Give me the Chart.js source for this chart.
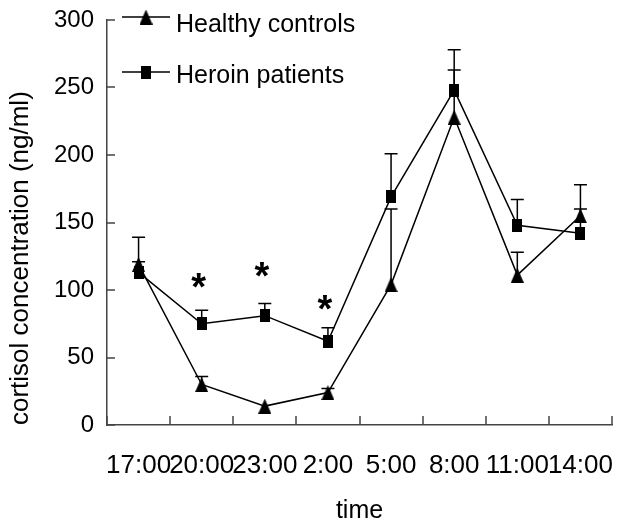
<!DOCTYPE html>
<html>
<head>
<meta charset="utf-8">
<script src="https://cdn.jsdelivr.net/npm/chart.js@4.4.1/dist/chart.umd.min.js"></script>
<style>
body { margin: 0; background: #fff; }
#wrap { width: 629px; height: 526px; position: relative; }
</style>
</head>
<body>
<div id="wrap"><canvas id="myChart"></canvas></div>
<script>
// values (ng/ml)
var times = ['17:00', '20:00', '23:00', '2:00', '5:00', '8:00', '11:00', '14:00'];
var healthy = [119, 30, 14, 24, 104, 228, 111, 155];
var healthyErr = [20, 6, 0, 3, 56, 35, 17, 23];
var heroin = [113, 75, 81, 62, 169, 248, 148, 142];
var heroinErr = [8, 10, 9, 10, 32, 30, 19, 18];
var starAt = [null, 107, 115, 91, null, null, null, null];
var yTicks = [0, 50, 100, 150, 200, 250, 300];

var FONT = '"Liberation Sans", Arial, sans-serif';
Chart.defaults.font.family = FONT;
Chart.defaults.color = '#000';

// tall markers like in the scan
function makeMarker(kind) {
	var c = document.createElement('canvas');
	var w = kind == 'tri' ? 13 : 10, h = kind == 'tri' ? 15 : 13;
	c.width = w; c.height = h;
	var g = c.getContext('2d');
	g.fillStyle = '#000';
	if (kind == 'tri') {
		g.beginPath(); g.moveTo(0, h); g.lineTo(w / 2, 0); g.lineTo(w, h); g.closePath(); g.fill();
	} else {
		g.fillRect(0, 0, w, h);
	}
	return c;
}
var triMark = makeMarker('tri');
var sqMark = makeMarker('sq');

var errorBars = {
	id: 'errorBars',
	beforeDatasetsDraw: function(chart) {
		var ctx = chart.ctx, xs = chart.scales.x, ys = chart.scales.y;
		ctx.save();
		ctx.strokeStyle = '#000';
		ctx.lineWidth = 1.5;
		chart.data.datasets.forEach(function(ds) {
			ds.data.forEach(function(v, i) {
				var e = ds.errors[i];
				if (!e) return;
				var px = xs.getPixelForValue(i), py = ys.getPixelForValue(v), pt = ys.getPixelForValue(v + e);
				ctx.beginPath();
				ctx.moveTo(px, py); ctx.lineTo(px, pt);
				ctx.moveTo(px - 6.5, pt); ctx.lineTo(px + 6.5, pt);
				ctx.stroke();
			});
		});
		ctx.restore();
	}
};

var extras = {
	id: 'extras',
	afterDraw: function(chart) {
		var ctx = chart.ctx, xs = chart.scales.x, ys = chart.scales.y, a = chart.chartArea;
		ctx.save();
		// inward tick marks
		ctx.strokeStyle = '#444';
		ctx.lineWidth = 1.5;
		ctx.beginPath();
		for (var i = 0; i <= times.length; i++) {
			var px = Math.round(xs.getPixelForValue(i - 0.5));
			ctx.moveTo(px, a.bottom); ctx.lineTo(px, a.bottom - 9);
		}
		yTicks.forEach(function(v) {
			var py = Math.round(ys.getPixelForValue(v));
			ctx.moveTo(a.left, py); ctx.lineTo(a.left + 8, py);
		});
		ctx.stroke();

		// significance stars
		ctx.fillStyle = '#000';
		ctx.font = 'bold 38px ' + FONT;
		ctx.textAlign = 'center';
		ctx.textBaseline = 'alphabetic';
		var m = ctx.measureText('*');
		starAt.forEach(function(v, i) {
			if (v == null) return;
			var cy = ys.getPixelForValue(v);
			ctx.fillText('*', xs.getPixelForValue(i) - 3, cy + (m.actualBoundingBoxAscent - m.actualBoundingBoxDescent) / 2);
		});

		// legend
		ctx.strokeStyle = '#000';
		ctx.font = '25px ' + FONT;
		ctx.textAlign = 'left';
		var items = [
			{ label: chart.data.datasets[0].label, mark: triMark, y: a.top - 3, base: a.top + 12 },
			{ label: chart.data.datasets[1].label, mark: sqMark, y: a.top + 52, base: a.top + 63 }
		];
		items.forEach(function(it) {
			var x0 = a.left + 15, x1 = a.left + 63, cx = (x0 + x1) / 2;
			ctx.beginPath(); ctx.moveTo(x0, it.y); ctx.lineTo(x1, it.y); ctx.stroke();
			ctx.drawImage(it.mark, cx - it.mark.width / 2, it.y - it.mark.height / 2);
			ctx.fillText(it.label, a.left + 69, it.base);
		});
		ctx.restore();
	}
};

var myChart = new Chart('myChart', {
	type: 'line',
	data: {
		labels: times,
		datasets: [{
			label: 'Healthy controls',
			data: healthy,
			errors: healthyErr,
			borderColor: '#000',
			borderWidth: 1.5,
			pointStyle: triMark,
			pointRadius: 7,
			tension: 0
		}, {
			label: 'Heroin patients',
			data: heroin,
			errors: heroinErr,
			borderColor: '#000',
			borderWidth: 1.5,
			pointStyle: sqMark,
			pointRadius: 7,
			tension: 0
		}]
	},
	options: {
		responsive: true,
		maintainAspectRatio: false,
		animation: false,
		layout: { padding: { top: 20, right: 17, left: 0, bottom: 0 } },
		plugins: { legend: { display: false }, tooltip: { enabled: false } },
		scales: {
			x: {
				offset: true,
				grid: { offset: true, drawOnChartArea: false, drawTicks: false },
				border: { color: '#444', width: 1.5 },
				ticks: { font: { size: 26 }, padding: 25, maxRotation: 0, autoSkip: false },
				title: { display: true, text: 'time', font: { size: 25 }, padding: { top: 3, bottom: 0 } },
				afterFit: function(s) { s.height = 101; s.paddingLeft = 0; s.paddingRight = 0; }
			},
			y: {
				min: 0,
				max: 300,
				grid: { drawOnChartArea: false, drawTicks: false },
				border: { color: '#444', width: 1.5 },
				ticks: { font: { size: 24 }, padding: 13 },
				afterBuildTicks: function(s) { s.ticks = yTicks.map(function(v) { return { value: v }; }); },
				title: { display: true, text: 'cortisol concentration (ng/ml)', font: { size: 26 }, align: 'start', padding: { top: 5, bottom: 0 } },
				afterFit: function(s) { s.width = 107; s.paddingTop = 0; s.paddingBottom = 0; }
			}
		}
	},
	plugins: [errorBars, extras]
});
</script>
</body>
</html>
